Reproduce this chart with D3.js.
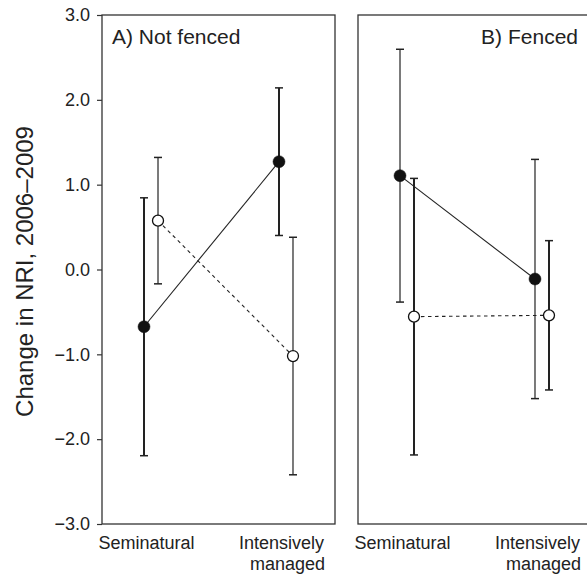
<!DOCTYPE html>
<html>
<head>
<meta charset="utf-8">
<script src="https://cdn.jsdelivr.net/npm/d3@7"></script>
<style>
  body { margin: 0; background: #fff; }
  svg { display: block; font-family: "Liberation Sans", Arial, sans-serif; }
</style>
</head>
<body>
<svg width="587" height="576"></svg>
<script>
document.addEventListener('DOMContentLoaded', function () {
  "use strict";

  var categories = ["Seminatural", "Intensively managed"];
  var panels = ["A) Not fenced", "B) Fenced"];
  var yTicks = [3, 2, 1, 0, -1, -2, -3];

  // means and half-width of error bars, [Seminatural, Intensively managed]
  var notFencedFilled = [-0.675, 1.271];
  var notFencedFilledErr = [1.52, 0.87];
  var notFencedOpen = [0.576, -1.02];
  var notFencedOpenErr = [0.745, 1.40];

  var fencedFilled = [1.106, -0.112];
  var fencedFilledErr = [1.49, 1.41];
  var fencedOpen = [-0.556, -0.54];
  var fencedOpenErr = [1.63, 0.88];

  var svg = d3.select("svg");
  var top = 15, bottom = 524, panelW = 233;
  var panelX = [102, 358];

  var y = d3.scaleLinear().domain([-3, 3]).range([bottom, top]);
  var x = d3.scalePoint().domain(categories).range([0, panelW]).padding(0.363);
  var fmt = function (d) { return d3.format(".1f")(d).replace("-", "\u2212"); };

  var data = [
    { title: panels[0], anchor: "start",
      series: [
        { kind: "filled", mean: notFencedFilled, err: notFencedFilledErr, dodge: -7, barW: 2 },
        { kind: "open", mean: notFencedOpen, err: notFencedOpenErr, dodge: 7, barW: 1.2 }
      ] },
    { title: panels[1], anchor: "end",
      series: [
        { kind: "filled", mean: fencedFilled, err: fencedFilledErr, dodge: -7, barW: 1.2 },
        { kind: "open", mean: fencedOpen, err: fencedOpenErr, dodge: 7, barW: 2 }
      ] }
  ];

  // y axis title
  svg.append("text")
    .attr("transform", "translate(33," + ((top + bottom) / 2 + 2) + ") rotate(-90)")
    .attr("text-anchor", "middle")
    .style("font-size", "24px")
    .attr("fill", "#222")
    .text("Change in NRI, 2006\u20132009");

  // y axis on panel A only
  var yAxis = svg.append("g")
    .attr("transform", "translate(" + panelX[0] + ",0)")
    .call(d3.axisLeft(y).tickValues(yTicks).tickFormat(fmt).tickSize(5).tickPadding(7));
  yAxis.select(".domain").remove();
  yAxis.selectAll(".tick line").attr("stroke", "#333").attr("stroke-width", 1.2);
  yAxis.selectAll(".tick text")
    .style("font-size", "18px")
    .attr("fill", "#222")
    .attr("font-family", null);

  data.forEach(function (panel, pi) {
    var g = svg.append("g").attr("transform", "translate(" + panelX[pi] + ",0)");

    g.append("rect")
      .attr("x", 0).attr("y", top)
      .attr("width", panelW).attr("height", bottom - top)
      .attr("fill", "none").attr("stroke", "#333").attr("stroke-width", 1.3);

    g.append("text")
      .attr("x", panel.anchor === "start" ? 10 : panelW - 13)
      .attr("y", 44)
      .attr("text-anchor", panel.anchor)
      .style("font-size", "21px")
      .attr("fill", "#222")
      .text(panel.title);

    // category labels
    categories.forEach(function (c) {
      var words = c.split(" ");
      var t = g.append("text")
        .attr("text-anchor", "middle")
        .style("font-size", "18px")
        .attr("fill", "#222");
      words.forEach(function (w, wi) {
        t.append("tspan")
          .attr("x", x(c) + (wi === 0 ? -4.5 : 1.5))
          .attr("y", 549 + wi * 21)
          .text(w);
      });
    });

    panel.series.forEach(function (s) {
      var pts = categories.map(function (c, i) {
        return { cx: x(c) + s.dodge, m: s.mean[i], e: s.err[i] };
      });

      var line = d3.line().x(function (d) { return d.cx; }).y(function (d) { return y(d.m); });
      g.append("path")
        .attr("d", line(pts))
        .attr("fill", "none")
        .attr("stroke", "#222")
        .attr("stroke-width", 1.1)
        .attr("stroke-dasharray", s.kind === "open" ? "3.5,3.5" : null);

      var eb = g.append("g").selectAll("g").data(pts).enter().append("g")
        .attr("stroke", "#222").attr("stroke-width", s.barW);
      eb.append("line")
        .attr("x1", function (d) { return d.cx; }).attr("x2", function (d) { return d.cx; })
        .attr("y1", function (d) { return y(d.m - d.e); })
        .attr("y2", function (d) { return y(d.m + d.e); });
      eb.append("line")
        .attr("x1", function (d) { return d.cx - 4; }).attr("x2", function (d) { return d.cx + 4; })
        .attr("y1", function (d) { return y(d.m + d.e); })
        .attr("y2", function (d) { return y(d.m + d.e); })
        .attr("stroke-width", 1.5);
      eb.append("line")
        .attr("x1", function (d) { return d.cx - 4; }).attr("x2", function (d) { return d.cx + 4; })
        .attr("y1", function (d) { return y(d.m - d.e); })
        .attr("y2", function (d) { return y(d.m - d.e); })
        .attr("stroke-width", 1.5);
    });

    panel.series.forEach(function (s) {
      g.selectAll(null).data(categories).enter().append("circle")
        .attr("cx", function (c) { return x(c) + s.dodge; })
        .attr("cy", function (c, i) { return y(s.mean[i]); })
        .attr("r", s.kind === "open" ? 5.5 : 6)
        .attr("fill", s.kind === "open" ? "#fff" : "#111")
        .attr("stroke", "#111")
        .attr("stroke-width", s.kind === "open" ? 1.3 : 0.5);
    });
  });
}, false);
</script>
</body>
</html>
